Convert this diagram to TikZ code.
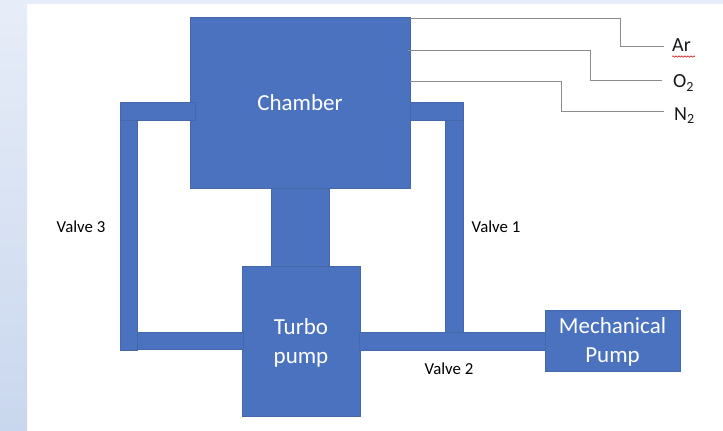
\documentclass[tikz,border=0pt]{standalone}
\usepackage{fontspec}
\setmainfont{Carlito}
\usetikzlibrary{decorations.pathmorphing}
\definecolor{blockfill}{HTML}{4B72BE}
\definecolor{blockedge}{HTML}{4468AA}
\definecolor{gasline}{HTML}{8C8C8C}
\definecolor{bgtop}{HTML}{E7EDF8}
\definecolor{bgmid}{HTML}{D9E3F3}
\definecolor{bgbot}{HTML}{C9D7EE}
\tikzset{
  x=1pt,y=-1pt,
  block/.style={draw=blockedge,line width=0.6pt,fill=blockfill,anchor=north west,inner sep=0pt,outer sep=0pt,
    text=white,align=center,font=\fontsize{23}{29.5}\selectfont},
  blocktext/.style={inner sep=0pt,text=white,align=center,font=\fontsize{23}{29.5}\selectfont},
  gas/.style={draw=gasline,line width=0.9pt},
  gaslabel/.style={anchor=west,inner xsep=8pt,inner ysep=0pt,text=black!90,font=\fontsize{20}{22}\selectfont},
  valve/.style={inner sep=0pt,text=black,font=\fontsize{16.8}{19}\selectfont},
}
\begin{document}
\begin{tikzpicture}
\useasboundingbox (0,0) rectangle (723,431);
\fill[white] (0,0) rectangle (723,431);
\shade[top color=bgtop,middle color=bgmid,bottom color=bgbot,draw=none] (0,0) rectangle (27,431);
\fill[bgtop] (27,0) rectangle (723,4);

% gas line start points on the chamber
\coordinate (arstart) at (410,18);
\coordinate (o2start) at (408,50);
\coordinate (n2start) at (410,81);
\coordinate (arbend) at (620,46);
\coordinate (o2bend) at (590,80);
\coordinate (n2bend) at (561,111.5);

% chamber and pumps
\node[block,minimum width=220pt,minimum height=171pt] (chamber) at (190,17) {Chamber};
\node[block,minimum width=58pt,minimum height=78pt] (neck) at (271,188) {};
\node[block,minimum width=117.5pt,minimum height=150pt] (turbo) at (242.5,266) {};
\node[blocktext] (turbotext) at (301,343) {Turbo\\pump};

% left pipe run
\node[block,minimum width=17.5pt,minimum height=230pt] (leftv) at (120,120) {};
\node[block,minimum width=75pt,minimum height=18pt] (lefttop) at (120,102) {};
\node[block,minimum width=105.5pt,minimum height=17.5pt] (leftbot) at (137.5,332) {};

% right pipe run
\node[block,minimum width=186pt,minimum height=18pt] (rightbot) at (359,332.5) {};
\node[block,minimum width=18.5pt,minimum height=212.5pt] (rightv) at (445,120) {};
\node[block,minimum width=53.5pt,minimum height=18pt] (righttop) at (410,102) {};

\node[block,minimum width=135pt,minimum height=60.5pt] (mech) at (545,310.5) {};
\node[blocktext] (mechtext) at (612.5,342) {Mechanical\\Pump};

% gas labels
\node[gaslabel] (ar) at (664,45.5) {Ar};
\node[gaslabel] (o2) at (665,83) {O\textsubscript{2}};
\node[gaslabel] (n2) at (666,116) {N\textsubscript{2}};
\coordinate (arwave) at (672,56.5);
\coordinate (arwaveend) at (695,56.5);
\draw[red!80!black,line width=0.5pt,decorate,decoration={snake,amplitude=0.7pt,segment length=3pt}] (arwave) -- (arwaveend);

% gas lines
\draw[gas] (arstart) -| (arbend) -- ++(44,0) coordinate (arend);
\draw[gas] (o2start) -| (o2bend) -- ++(72,0) coordinate (o2end);
\draw[gas] (n2start) -| (n2bend) -- ++(103,0) coordinate (n2end);

% valve labels
\node[valve] (v3) at (81,227) {Valve 3};
\node[valve] (v1) at (496,227) {Valve 1};
\node[valve] (v2) at (449,369) {Valve 2};
\end{tikzpicture}
\end{document}
